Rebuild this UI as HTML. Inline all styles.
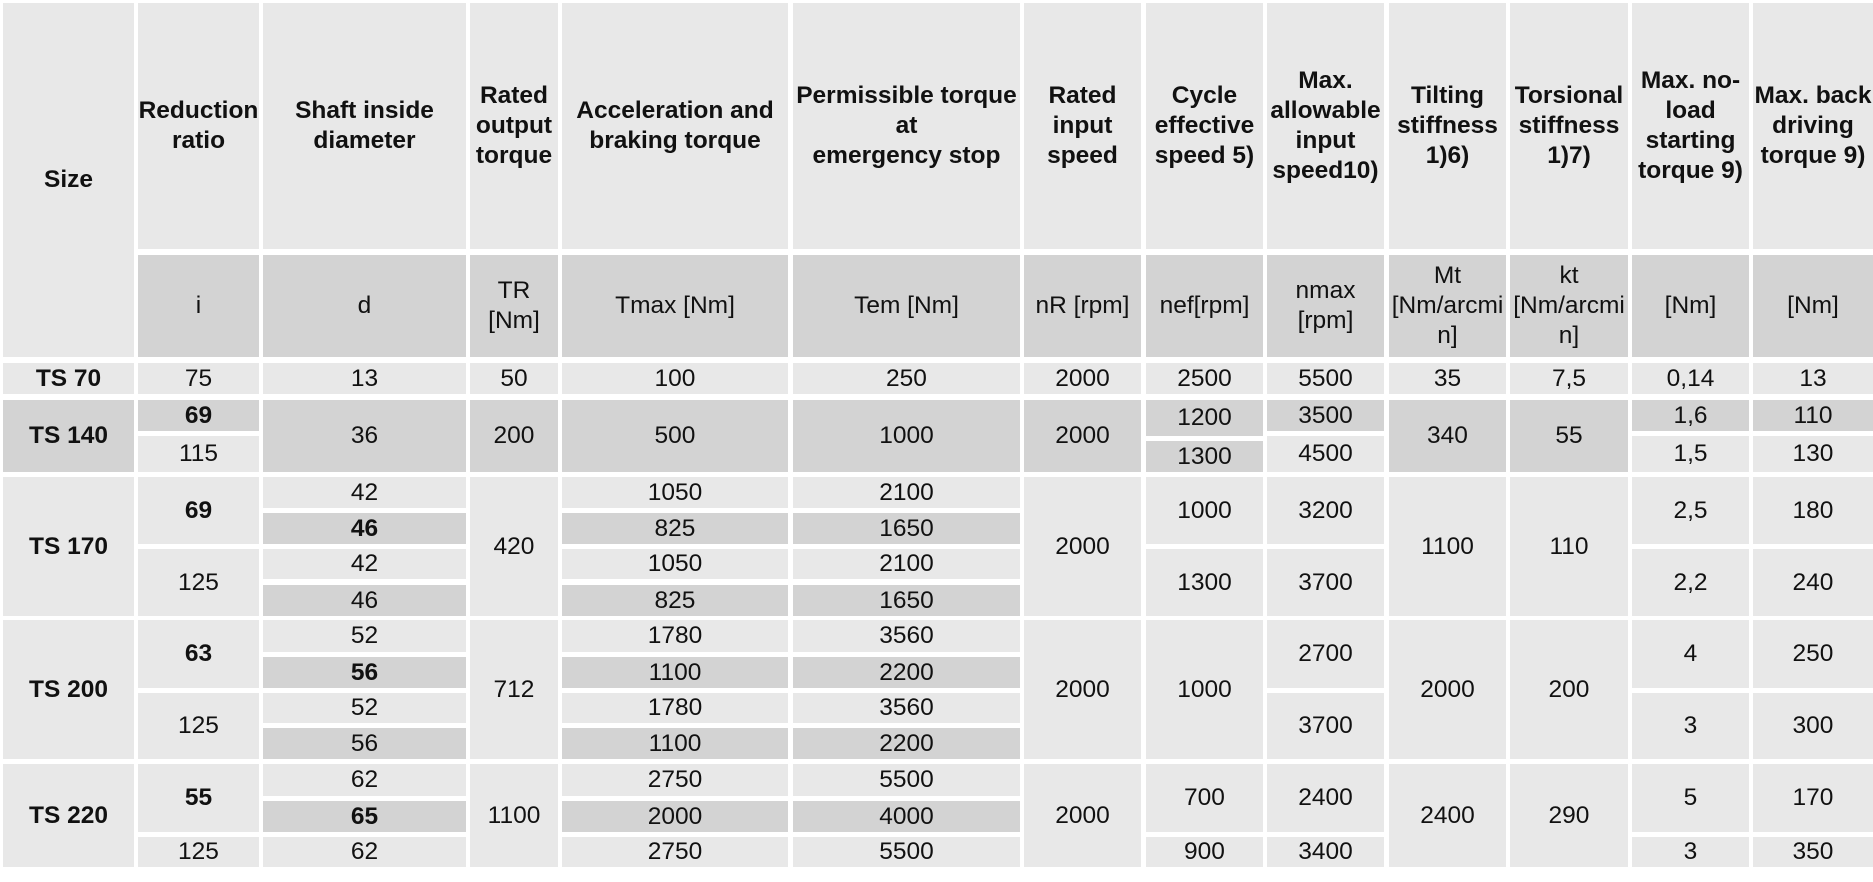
<!DOCTYPE html>
<html>
<head>
<meta charset="utf-8">
<style>
html,body{margin:0;padding:0;background:#fff;}
body{width:1873px;height:882px;position:relative;overflow:hidden;font-family:"Liberation Sans",Arial,sans-serif;font-size:24.5px;line-height:30px;color:#111;}
.c{position:absolute;display:flex;align-items:center;justify-content:center;text-align:center;white-space:nowrap;box-sizing:border-box;}
.L{background:#e8e8e8;}
.D{background:#d3d3d3;}
.b{font-weight:bold;}
</style>
</head>
<body>
<!-- Header -->
<div class="c L b" style="left:3px;top:3px;width:131px;height:354px;">Size</div>
<div class="c L b" style="left:138px;top:3px;width:121px;height:246px;">Reduction<br>ratio</div>
<div class="c L b" style="left:263px;top:3px;width:203px;height:246px;">Shaft inside<br>diameter</div>
<div class="c L b" style="left:470px;top:3px;width:88px;height:246px;">Rated<br>output<br>torque</div>
<div class="c L b" style="left:562px;top:3px;width:226px;height:246px;">Acceleration and<br>braking torque</div>
<div class="c L b" style="left:793px;top:3px;width:227px;height:246px;">Permissible torque<br>at<br>emergency stop</div>
<div class="c L b" style="left:1024px;top:3px;width:117px;height:246px;">Rated<br>input<br>speed</div>
<div class="c L b" style="left:1146px;top:3px;width:117px;height:246px;">Cycle<br>effective<br>speed 5)</div>
<div class="c L b" style="left:1267px;top:3px;width:117px;height:246px;">Max.<br>allowable<br>input<br>speed10)</div>
<div class="c L b" style="left:1389px;top:3px;width:117px;height:246px;">Tilting<br>stiffness<br>1)6)</div>
<div class="c L b" style="left:1510px;top:3px;width:118px;height:246px;">Torsional<br>stiffness<br>1)7)</div>
<div class="c L b" style="left:1632px;top:3px;width:117px;height:246px;">Max. no-<br>load<br>starting<br>torque 9)</div>
<div class="c L b" style="left:1753px;top:3px;width:120px;height:246px;">Max. back<br>driving<br>torque 9)</div>

<!-- Units -->
<div class="c D" style="left:138px;top:255px;width:121px;height:102px;">i</div>
<div class="c D" style="left:263px;top:255px;width:203px;height:102px;">d</div>
<div class="c D" style="left:470px;top:255px;width:88px;height:102px;">TR<br>[Nm]</div>
<div class="c D" style="left:562px;top:255px;width:226px;height:102px;">Tmax [Nm]</div>
<div class="c D" style="left:793px;top:255px;width:227px;height:102px;">Tem [Nm]</div>
<div class="c D" style="left:1024px;top:255px;width:117px;height:102px;">nR [rpm]</div>
<div class="c D" style="left:1146px;top:255px;width:117px;height:102px;">nef[rpm]</div>
<div class="c D" style="left:1267px;top:255px;width:117px;height:102px;">nmax<br>[rpm]</div>
<div class="c D" style="left:1389px;top:255px;width:117px;height:102px;">Mt<br>[Nm/arcmi<br>n]</div>
<div class="c D" style="left:1510px;top:255px;width:118px;height:102px;">kt<br>[Nm/arcmi<br>n]</div>
<div class="c D" style="left:1632px;top:255px;width:117px;height:102px;">[Nm]</div>
<div class="c D" style="left:1753px;top:255px;width:120px;height:102px;">[Nm]</div>

<!-- TS 70 -->
<div class="c L b" style="left:3px;top:363px;width:131px;height:31px;">TS 70</div>
<div class="c L" style="left:138px;top:363px;width:121px;height:31px;">75</div>
<div class="c L" style="left:263px;top:363px;width:203px;height:31px;">13</div>
<div class="c L" style="left:470px;top:363px;width:88px;height:31px;">50</div>
<div class="c L" style="left:562px;top:363px;width:226px;height:31px;">100</div>
<div class="c L" style="left:793px;top:363px;width:227px;height:31px;">250</div>
<div class="c L" style="left:1024px;top:363px;width:117px;height:31px;">2000</div>
<div class="c L" style="left:1146px;top:363px;width:117px;height:31px;">2500</div>
<div class="c L" style="left:1267px;top:363px;width:117px;height:31px;">5500</div>
<div class="c L" style="left:1389px;top:363px;width:117px;height:31px;">35</div>
<div class="c L" style="left:1510px;top:363px;width:118px;height:31px;">7,5</div>
<div class="c L" style="left:1632px;top:363px;width:117px;height:31px;">0,14</div>
<div class="c L" style="left:1753px;top:363px;width:120px;height:31px;">13</div>

<!-- TS 140 -->
<div class="c D b" style="left:3px;top:400px;width:131px;height:72px;">TS 140</div>
<div class="c D b" style="left:138px;top:400px;width:121px;height:31px;">69</div>
<div class="c L" style="left:138px;top:436px;width:121px;height:36px;">115</div>
<div class="c D" style="left:263px;top:400px;width:203px;height:72px;">36</div>
<div class="c D" style="left:470px;top:400px;width:88px;height:72px;">200</div>
<div class="c D" style="left:562px;top:400px;width:226px;height:72px;">500</div>
<div class="c D" style="left:793px;top:400px;width:227px;height:72px;">1000</div>
<div class="c D" style="left:1024px;top:400px;width:117px;height:72px;">2000</div>
<div class="c D" style="left:1146px;top:400px;width:117px;height:36px;">1200</div>
<div class="c D" style="left:1146px;top:441px;width:117px;height:31px;">1300</div>
<div class="c D" style="left:1267px;top:400px;width:117px;height:31px;">3500</div>
<div class="c L" style="left:1267px;top:436px;width:117px;height:36px;">4500</div>
<div class="c D" style="left:1389px;top:400px;width:117px;height:72px;">340</div>
<div class="c D" style="left:1510px;top:400px;width:118px;height:72px;">55</div>
<div class="c D" style="left:1632px;top:400px;width:117px;height:31px;">1,6</div>
<div class="c L" style="left:1632px;top:436px;width:117px;height:36px;">1,5</div>
<div class="c D" style="left:1753px;top:400px;width:120px;height:31px;">110</div>
<div class="c L" style="left:1753px;top:436px;width:120px;height:36px;">130</div>

<!-- TS 170 -->
<div class="c L b" style="left:3px;top:477px;width:131px;height:139px;">TS 170</div>
<div class="c L b" style="left:138px;top:477px;width:121px;height:67px;">69</div>
<div class="c L" style="left:138px;top:549px;width:121px;height:67px;">125</div>
<div class="c L" style="left:263px;top:477px;width:203px;height:31px;">42</div>
<div class="c D b" style="left:263px;top:513px;width:203px;height:31px;">46</div>
<div class="c L" style="left:263px;top:549px;width:203px;height:30px;">42</div>
<div class="c D" style="left:263px;top:585px;width:203px;height:31px;">46</div>
<div class="c L" style="left:470px;top:477px;width:88px;height:139px;">420</div>
<div class="c L" style="left:562px;top:477px;width:226px;height:31px;">1050</div>
<div class="c D" style="left:562px;top:513px;width:226px;height:31px;">825</div>
<div class="c L" style="left:562px;top:549px;width:226px;height:30px;">1050</div>
<div class="c D" style="left:562px;top:585px;width:226px;height:31px;">825</div>
<div class="c L" style="left:793px;top:477px;width:227px;height:31px;">2100</div>
<div class="c D" style="left:793px;top:513px;width:227px;height:31px;">1650</div>
<div class="c L" style="left:793px;top:549px;width:227px;height:30px;">2100</div>
<div class="c D" style="left:793px;top:585px;width:227px;height:31px;">1650</div>
<div class="c L" style="left:1024px;top:477px;width:117px;height:139px;">2000</div>
<div class="c L" style="left:1146px;top:477px;width:117px;height:67px;">1000</div>
<div class="c L" style="left:1146px;top:549px;width:117px;height:67px;">1300</div>
<div class="c L" style="left:1267px;top:477px;width:117px;height:67px;">3200</div>
<div class="c L" style="left:1267px;top:549px;width:117px;height:67px;">3700</div>
<div class="c L" style="left:1389px;top:477px;width:117px;height:139px;">1100</div>
<div class="c L" style="left:1510px;top:477px;width:118px;height:139px;">110</div>
<div class="c L" style="left:1632px;top:477px;width:117px;height:67px;">2,5</div>
<div class="c L" style="left:1632px;top:549px;width:117px;height:67px;">2,2</div>
<div class="c L" style="left:1753px;top:477px;width:120px;height:67px;">180</div>
<div class="c L" style="left:1753px;top:549px;width:120px;height:67px;">240</div>

<!-- TS 200 -->
<div class="c L b" style="left:3px;top:620px;width:131px;height:139px;">TS 200</div>
<div class="c L b" style="left:138px;top:620px;width:121px;height:68px;">63</div>
<div class="c L" style="left:138px;top:693px;width:121px;height:66px;">125</div>
<div class="c L" style="left:263px;top:620px;width:203px;height:32px;">52</div>
<div class="c D b" style="left:263px;top:657px;width:203px;height:31px;">56</div>
<div class="c L" style="left:263px;top:693px;width:203px;height:30px;">52</div>
<div class="c D" style="left:263px;top:728px;width:203px;height:31px;">56</div>
<div class="c L" style="left:470px;top:620px;width:88px;height:139px;">712</div>
<div class="c L" style="left:562px;top:620px;width:226px;height:32px;">1780</div>
<div class="c D" style="left:562px;top:657px;width:226px;height:31px;">1100</div>
<div class="c L" style="left:562px;top:693px;width:226px;height:30px;">1780</div>
<div class="c D" style="left:562px;top:728px;width:226px;height:31px;">1100</div>
<div class="c L" style="left:793px;top:620px;width:227px;height:32px;">3560</div>
<div class="c D" style="left:793px;top:657px;width:227px;height:31px;">2200</div>
<div class="c L" style="left:793px;top:693px;width:227px;height:30px;">3560</div>
<div class="c D" style="left:793px;top:728px;width:227px;height:31px;">2200</div>
<div class="c L" style="left:1024px;top:620px;width:117px;height:139px;">2000</div>
<div class="c L" style="left:1146px;top:620px;width:117px;height:139px;">1000</div>
<div class="c L" style="left:1267px;top:620px;width:117px;height:68px;">2700</div>
<div class="c L" style="left:1267px;top:693px;width:117px;height:66px;">3700</div>
<div class="c L" style="left:1389px;top:620px;width:117px;height:139px;">2000</div>
<div class="c L" style="left:1510px;top:620px;width:118px;height:139px;">200</div>
<div class="c L" style="left:1632px;top:620px;width:117px;height:68px;">4</div>
<div class="c L" style="left:1632px;top:693px;width:117px;height:66px;">3</div>
<div class="c L" style="left:1753px;top:620px;width:120px;height:68px;">250</div>
<div class="c L" style="left:1753px;top:693px;width:120px;height:66px;">300</div>

<!-- TS 220 -->
<div class="c L b" style="left:3px;top:764px;width:131px;height:103px;">TS 220</div>
<div class="c L b" style="left:138px;top:764px;width:121px;height:68px;">55</div>
<div class="c L" style="left:138px;top:837px;width:121px;height:30px;">125</div>
<div class="c L" style="left:263px;top:764px;width:203px;height:32px;">62</div>
<div class="c D b" style="left:263px;top:801px;width:203px;height:31px;">65</div>
<div class="c L" style="left:263px;top:837px;width:203px;height:30px;">62</div>
<div class="c L" style="left:470px;top:764px;width:88px;height:103px;">1100</div>
<div class="c L" style="left:562px;top:764px;width:226px;height:32px;">2750</div>
<div class="c D" style="left:562px;top:801px;width:226px;height:31px;">2000</div>
<div class="c L" style="left:562px;top:837px;width:226px;height:30px;">2750</div>
<div class="c L" style="left:793px;top:764px;width:227px;height:32px;">5500</div>
<div class="c D" style="left:793px;top:801px;width:227px;height:31px;">4000</div>
<div class="c L" style="left:793px;top:837px;width:227px;height:30px;">5500</div>
<div class="c L" style="left:1024px;top:764px;width:117px;height:103px;">2000</div>
<div class="c L" style="left:1146px;top:764px;width:117px;height:68px;">700</div>
<div class="c L" style="left:1146px;top:837px;width:117px;height:30px;">900</div>
<div class="c L" style="left:1267px;top:764px;width:117px;height:68px;">2400</div>
<div class="c L" style="left:1267px;top:837px;width:117px;height:30px;">3400</div>
<div class="c L" style="left:1389px;top:764px;width:117px;height:103px;">2400</div>
<div class="c L" style="left:1510px;top:764px;width:118px;height:103px;">290</div>
<div class="c L" style="left:1632px;top:764px;width:117px;height:68px;">5</div>
<div class="c L" style="left:1632px;top:837px;width:117px;height:30px;">3</div>
<div class="c L" style="left:1753px;top:764px;width:120px;height:68px;">170</div>
<div class="c L" style="left:1753px;top:837px;width:120px;height:30px;">350</div>
</body>
</html>
